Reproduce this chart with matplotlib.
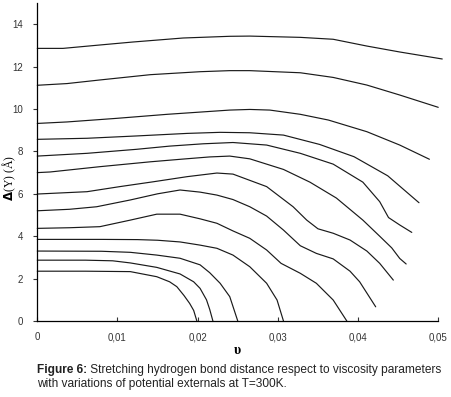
import matplotlib
matplotlib.use("Agg")
import matplotlib.pyplot as plt
from matplotlib.ticker import FuncFormatter

# curves, top to bottom (x = viscosity nu, y = Delta(Y) in A)
c1_x = [0, 0.0032, 0.0078, 0.0119, 0.0182, 0.0240, 0.0265, 0.0328, 0.0369, 0.0411, 0.0452, 0.0505]
c1_y = [12.86, 12.86, 13.02, 13.16, 13.35, 13.43, 13.44, 13.38, 13.29, 12.97, 12.69, 12.36]
c2_x = [0, 0.0037, 0.0078, 0.0141, 0.0203, 0.0240, 0.0265, 0.0328, 0.0369, 0.0411, 0.0452, 0.0500]
c2_y = [11.12, 11.20, 11.37, 11.62, 11.76, 11.81, 11.81, 11.71, 11.49, 11.13, 10.66, 10.08]
c3_x = [0, 0.0037, 0.0099, 0.0162, 0.0240, 0.0265, 0.0290, 0.0328, 0.0363, 0.0411, 0.0452, 0.0489]
c3_y = [9.32, 9.39, 9.56, 9.75, 9.95, 9.98, 9.95, 9.75, 9.48, 8.93, 8.30, 7.63]
c4_x = [0, 0.0062, 0.0124, 0.0187, 0.0228, 0.0265, 0.0307, 0.0352, 0.0395, 0.0437, 0.0476]
c4_y = [8.57, 8.62, 8.73, 8.85, 8.90, 8.88, 8.77, 8.33, 7.75, 6.85, 5.58]
c5_x = [0, 0.0062, 0.0124, 0.0165, 0.0207, 0.0244, 0.0286, 0.0328, 0.0369, 0.0406, 0.0427, 0.0438,
        0.0452, 0.0467]
c5_y = [7.78, 7.91, 8.10, 8.25, 8.36, 8.42, 8.30, 7.91, 7.40, 6.55, 5.63, 4.88, 4.53, 4.18]
c6_x = [0, 0.0016, 0.0078, 0.0141, 0.0182, 0.0215, 0.0240, 0.0265, 0.0307, 0.0340, 0.0373, 0.0406,
        0.0427, 0.0442, 0.0452, 0.0460]
c6_y = [7.00, 7.03, 7.28, 7.51, 7.64, 7.74, 7.78, 7.65, 7.15, 6.55, 5.80, 4.76, 4.00, 3.45, 2.95, 2.69]
c7_x = [0, 0.0062, 0.0103, 0.0145, 0.0187, 0.0224, 0.0244, 0.0286, 0.0319, 0.0336, 0.0350, 0.0369,
        0.0390, 0.0411, 0.0427, 0.0444]
c7_y = [5.99, 6.10, 6.34, 6.57, 6.81, 6.98, 6.93, 6.34, 5.39, 4.76, 4.35, 4.14, 3.82, 3.30, 2.72, 1.93]
c8_x = [0, 0.0040, 0.0074, 0.0116, 0.0150, 0.0178, 0.0203, 0.0224, 0.0244, 0.0265, 0.0286, 0.0307,
        0.0328, 0.0348, 0.0369, 0.0390, 0.0402, 0.0422]
c8_y = [5.20, 5.27, 5.39, 5.71, 6.00, 6.18, 6.08, 5.94, 5.73, 5.39, 4.95, 4.29, 3.55, 3.19, 2.93,
        2.35, 1.85, 0.67]
c9_x = [0, 0.0040, 0.0078, 0.0116, 0.0149, 0.0178, 0.0203, 0.0224, 0.0244, 0.0265, 0.0286, 0.0304,
        0.0328, 0.0348, 0.0369, 0.0386]
c9_y = [4.37, 4.40, 4.45, 4.76, 5.04, 5.04, 4.82, 4.61, 4.25, 3.90, 3.35, 2.72, 2.25, 1.78, 0.99, 0.0]
c10_x = [0, 0.0080, 0.0125, 0.0150, 0.0178, 0.0203, 0.0224, 0.0244, 0.0265, 0.0286, 0.0299, 0.0307]
c10_y = [3.85, 3.85, 3.84, 3.81, 3.73, 3.58, 3.43, 3.11, 2.56, 1.78, 0.99, 0.0]
c11_x = [0, 0.0080, 0.0116, 0.0149, 0.0178, 0.0203, 0.0215, 0.0228, 0.0240, 0.0250]
c11_y = [3.30, 3.29, 3.24, 3.11, 2.96, 2.65, 2.28, 1.78, 1.15, 0.0]
c12_x = [0, 0.0060, 0.0094, 0.0116, 0.0149, 0.0178, 0.0195, 0.0203, 0.0211, 0.0215, 0.0219]
c12_y = [2.87, 2.87, 2.84, 2.74, 2.53, 2.22, 1.85, 1.54, 1.00, 0.55, 0.0]
c13_x = [0, 0.0060, 0.0116, 0.0149, 0.0165, 0.0174, 0.0183, 0.0190, 0.0195, 0.0199]
c13_y = [2.35, 2.35, 2.33, 2.09, 1.85, 1.62, 1.20, 0.83, 0.50, 0.0]

curves = [(c1_x, c1_y), (c2_x, c2_y), (c3_x, c3_y), (c4_x, c4_y), (c5_x, c5_y),
          (c6_x, c6_y), (c7_x, c7_y), (c8_x, c8_y), (c9_x, c9_y), (c10_x, c10_y),
          (c11_x, c11_y), (c12_x, c12_y), (c13_x, c13_y)]

x_ticks = [0, 0.01, 0.02, 0.03, 0.04, 0.05]
y_ticks = [0, 2, 4, 6, 8, 10, 12, 14]

caption_bold = "Figure 6:"
caption_rest = " Stretching hydrogen bond distance respect to viscosity parameters"
caption_line2 = "with variations of potential externals at T=300K."

plt.rcParams['font.family'] = ['Liberation Sans', 'DejaVu Sans']

fig = plt.figure(figsize=(4.51, 3.97), dpi=100)
ax = fig.add_axes([0.0827, 0.1914, 0.889, 0.801])

for xs, ys in curves:
    ax.plot(xs, ys, color='#1a1a1a', lw=0.85, clip_on=False,
            solid_joinstyle='round', solid_capstyle='round')

ax.set_xlim(0, 0.05)
ax.set_ylim(0, 15)
ax.set_xticks(x_ticks)
ax.set_yticks(y_ticks)
ax.xaxis.set_major_formatter(FuncFormatter(lambda v, p: "0" if v == 0 else ("%.2f" % v).replace(".", ",")))
ax.spines['top'].set_visible(False)
ax.spines['right'].set_visible(False)
ax.spines['left'].set_linewidth(0.9)
ax.spines['bottom'].set_linewidth(0.9)
ax.tick_params(axis='x', direction='in', length=3, width=0.8, labelsize=7, pad=8, colors='#333333')
ax.tick_params(axis='y', direction='out', length=3, width=0.8, labelsize=7, pad=7, colors='#333333')

ax.set_xlabel("υ", family='Liberation Serif', fontweight='bold', fontsize=10, labelpad=1)
fig.text(0.02, 0.552, r"$\mathbf{\Delta}$(Y) (Å)", rotation=90, ha='center', va='center',
         family='Liberation Serif', fontsize=8.5)

# caption: bold "Figure 6:" followed by regular text on the same line
t1 = fig.text(0.082, 0.061, caption_bold, fontweight='bold', fontsize=8.6, color='#222222')
fig.canvas.draw()
bb = t1.get_window_extent(renderer=fig.canvas.get_renderer())
fig.text(bb.x1 / fig.bbox.width, 0.061, caption_rest, fontsize=8.6, color='#222222')
fig.text(0.082, 0.024, caption_line2, fontsize=8.6, color='#222222')

fig.savefig("out.png", dpi=100)
